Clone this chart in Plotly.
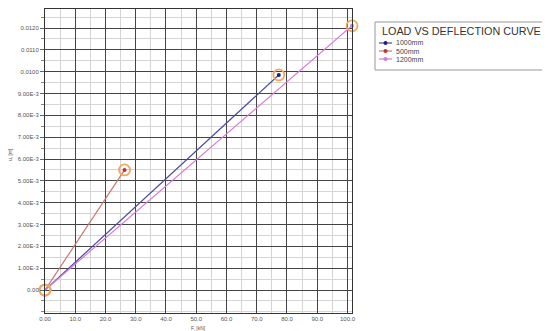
import plotly.graph_objects as go

# ---- data ----
series_names = ["1000mm", "500mm", "1200mm"]
load_1000 = [0.0, 77.3]
defl_1000 = [0.0, 0.00985]
load_500 = [0.0, 26.3]
defl_500 = [0.0, 0.0055]
load_1200 = [0.0, 101.5]
defl_1200 = [0.0, 0.0121]

x_tickvals = [0, 10, 20, 30, 40, 50, 60, 70, 80, 90, 100]
x_ticktext = ["0.00", "10.0", "20.0", "30.0", "40.0", "50.0", "60.0", "70.0", "80.0", "90.0", "100.0"]
y_tickvals = [0, 0.001, 0.002, 0.003, 0.004, 0.005, 0.006, 0.007, 0.008, 0.009, 0.010, 0.011, 0.012]
y_ticktext = ["0.00", "1.00E-3", "2.00E-3", "3.00E-3", "4.00E-3", "5.00E-3", "6.00E-3",
              "7.00E-3", "8.00E-3", "9.00E-3", "0.0100", "0.0110", "0.0120"]
legend_title = "LOAD VS DEFLECTION CURVE"
x_title = "F, [kN]"
y_title = "u, [m]"

line_colors = ["#4a4a9a", "#c87a6a", "#d67ad6"]
dot_colors = ["#1c1c8a", "#c03030", "#d67ad6"]
ring_color = "#f0a860"

xs = [load_1000, load_500, load_1200]
ys = [defl_1000, defl_500, defl_1200]

# figure geometry (page body has an 8px margin)
W, H = 542, 323
L, R, T, B = 37, 198, 1, 18
PW, PH = W - L - R, H - T - B


def px(page_x):
    return (page_x - 8 - L) / PW


def py(page_y):
    return (H - B - (page_y - 8)) / PH


fig = go.Figure()
for name, x, y, lc in zip(series_names, xs, ys, line_colors):
    fig.add_trace(go.Scatter(
        x=x, y=y, name=name, mode="lines",
        line=dict(color=lc, width=1.2),
        cliponaxis=False, showlegend=False,
    ))
for name, x, y, dc in zip(series_names, xs, ys, dot_colors):
    fig.add_trace(go.Scatter(
        x=x, y=y, mode="markers", showlegend=False, hoverinfo="skip",
        marker=dict(symbol="circle-open", size=11, color=ring_color,
                    line=dict(width=1.8, color=ring_color)),
        cliponaxis=False,
    ))
    fig.add_trace(go.Scatter(
        x=x[1:], y=y[1:], mode="markers", showlegend=False, hoverinfo="skip",
        marker=dict(symbol="circle", size=4, color=dc),
        cliponaxis=False,
    ))

shapes = []
annotations = []
# legend box
shapes.append(dict(type="rect", xref="paper", yref="paper",
                   x0=px(375), x1=px(600), y0=py(70), y1=py(22),
                   line=dict(color="#999999", width=1), fillcolor="white", layer="above"))
annotations.append(dict(xref="paper", yref="paper", x=px(380), y=py(31),
                        xanchor="left", yanchor="middle", showarrow=False,
                        text=legend_title, font=dict(size=10.8, color="#333333")))
entry_y = [43, 51, 59]
for name, lc, dc, ey in zip(series_names, line_colors, dot_colors, entry_y):
    shapes.append(dict(type="line", xref="paper", yref="paper",
                       x0=px(379), x1=px(392), y0=py(ey), y1=py(ey),
                       line=dict(color=lc, width=1.2), layer="above"))
    shapes.append(dict(type="circle", xref="paper", yref="paper",
                       xsizemode="pixel", ysizemode="pixel",
                       xanchor=px(385.5), yanchor=py(ey),
                       x0=-2, x1=2, y0=-2, y1=2,
                       line=dict(color=dc, width=0), fillcolor=dc, layer="above"))
    annotations.append(dict(xref="paper", yref="paper", x=px(394), y=py(ey),
                            xanchor="left", yanchor="middle", showarrow=False,
                            text=name, font=dict(size=7, color="#444444")))
# axis titles
annotations.append(dict(xref="paper", yref="paper", x=0.5, y=py(328),
                        xanchor="center", yanchor="middle", showarrow=False,
                        text=x_title, font=dict(size=5, color="#555555")))
annotations.append(dict(xref="paper", yref="paper", x=px(10), y=py(155),
                        xanchor="center", yanchor="middle", showarrow=False, textangle=-90,
                        text=y_title, font=dict(size=5, color="#555555")))

fig.update_layout(
    width=W, height=H,
    margin=dict(l=L, r=R, t=T, b=B, autoexpand=False),
    paper_bgcolor="white", plot_bgcolor="white",
    font=dict(family="Liberation Sans, Arial, sans-serif", color="#555555", size=6),
    showlegend=False,
    shapes=shapes, annotations=annotations,
)

fig.update_xaxes(
    range=[0, 101.5],
    tickvals=x_tickvals, ticktext=x_ticktext,
    showgrid=True, gridcolor="#444444", gridwidth=1,
    minor=dict(dtick=5, showgrid=True, gridcolor="#d4d4d4", gridwidth=1),
    showline=True, linecolor="#333333", linewidth=1, mirror=True,
    ticks="", zeroline=False,
    tickfont=dict(size=6, color="#555555"),
    automargin=False,
)
fig.update_yaxes(
    range=[-0.00105, 0.01287],
    tickvals=y_tickvals, ticktext=y_ticktext,
    showgrid=True, gridcolor="#444444", gridwidth=1,
    minor=dict(dtick=0.0005, tick0=0, showgrid=True, gridcolor="#d4d4d4", gridwidth=1,
               ticks="outside", ticklen=3, tickcolor="#888888"),
    ticks="outside", ticklen=4, tickcolor="#666666",
    showline=True, linecolor="#333333", linewidth=1, mirror=True,
    zeroline=False,
    tickfont=dict(size=6, color="#555555"),
    automargin=False,
)

fig.write_html("out.html")
